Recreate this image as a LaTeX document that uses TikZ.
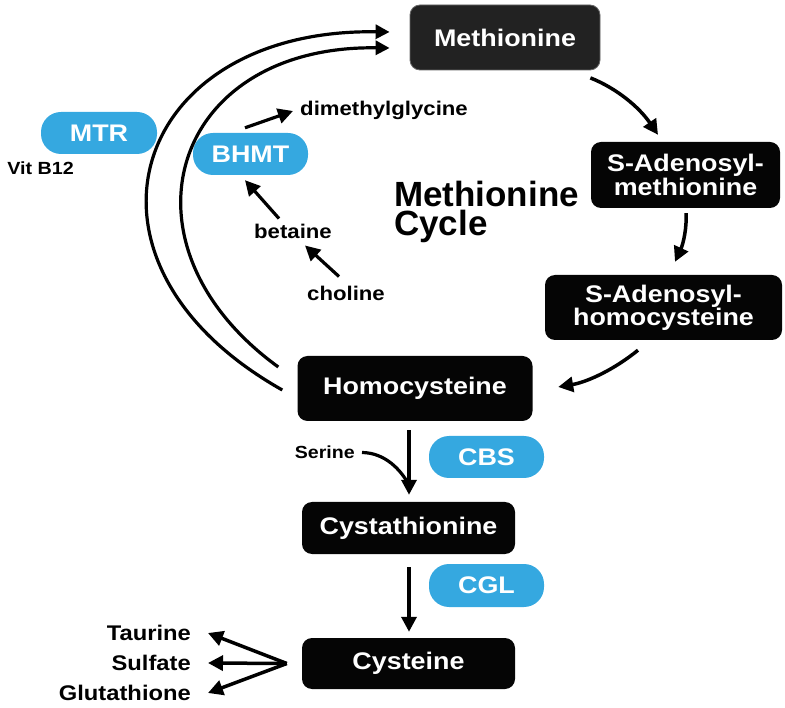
\documentclass[tikz,border=0pt]{standalone}
\usepackage{fontspec}
\setmainfont{Liberation Sans}[FakeStretch=1.12]
\newfontfamily\titlefont{Liberation Sans}
\usetikzlibrary{arrows.meta,calc}
\definecolor{enzblue}{HTML}{35A8E0}
\definecolor{boxblack}{HTML}{050505}
\definecolor{metblack}{HTML}{222222}
\begin{document}
\begin{tikzpicture}[x=1pt,y=-1pt,
  box/.style={fill=boxblack, rounded corners=10pt, text=white, align=center, inner sep=0pt,
    font=\bfseries\fontsize{24}{22}\selectfont},
  enz/.style={fill=enzblue, rounded corners=20pt, text=white, inner sep=0pt,
    font=\bfseries\fontsize{24}{24}\selectfont},
  lab/.style={inner sep=0pt, font=\bfseries\fontsize{19.8}{22}\selectfont},
  arr/.style={line width=3.5pt, -{Triangle[length=15pt,width=15pt]}},
  curvearr/.style={line width=3.2pt, -{Triangle[length=14pt,width=14pt]}}]
\useasboundingbox (0,0) rectangle (785,708);

% main boxes
\node[box, fill=metblack, draw=black!60, line width=0.8pt, minimum width=190, minimum height=65] (met) at (505,37.5) {Methionine};
\node[box, minimum width=189, minimum height=66] (sam) at (685.5,175) {S-Adenosyl-\\methionine};
\node[box, minimum width=237, minimum height=65] (sah) at (663.5,307.5) {S-Adenosyl-\\homocysteine};
\node[box, minimum width=235, minimum height=65] (hcy) at (415,388.5) {Homocysteine};
\node[box, minimum width=213, minimum height=52] (cth) at (408.5,528) {Cystathionine};
\node[box, minimum width=213, minimum height=51] (cys) at (408.5,663.5) {Cysteine};

% enzymes
\node[enz, minimum width=116, minimum height=42] (mtr) at (99,133) {MTR};
\node[enz, minimum width=115, minimum height=42] (bhmt) at (250.5,154) {BHMT};
\node[enz, minimum width=115, minimum height=42] (cbs) at (486.5,457) {CBS};
\node[enz, minimum width=115, minimum height=43] (cgl) at (486.5,585.5) {CGL};

% labels
\node[lab, font=\bfseries\fontsize{17.6}{20}\selectfont] (vit) at (40.5,168) {Vit B12};
\node[lab] (dmg) at (384,110) {dimethylglycine};
\node[lab] (bet) at (293,231) {betaine};
\node[lab] (cho) at (346,293) {choline};
\node[lab, font=\bfseries\fontsize{17.5}{20}\selectfont, anchor=east] (ser) at (355,452) {Serine};
\node[lab, font=\bfseries\fontsize{21.2}{22}\selectfont, anchor=east] (tau) at (191,633) {Taurine};
\node[lab, font=\bfseries\fontsize{21.2}{22}\selectfont, anchor=east] (sul) at (191,663) {Sulfate};
\node[lab, font=\bfseries\fontsize{21.2}{22}\selectfont, anchor=east] (glu) at (191,693) {Glutathione};
\node[inner sep=0pt, anchor=base west, align=left, font=\titlefont\bfseries\fontsize{35}{28.5}\selectfont] (title) at (394,235.5) {Methionine\\Cycle};

% cycle arrows
\draw[arr] ($(met.south east)+(-10,7.5)$) .. controls (616.7,88.3) and (639.3,107.3) .. ($(sam.north)+(-27.5,-7)$);
\draw[arr] ($(sam.south)+(0.5,5)$) .. controls (687,227.3) and (683.3,243.7) .. ($(sah.north)+(11.5,-13)$);
\draw[arr] ($(sah.south)+(-25.5,10)$) .. controls (614,369.7) and (587.3,382) .. ($(hcy.east)+(25.5,-1.5)$);

% remethylation curves
\coordinate (o1) at ($(hcy.west)+(-15,1.5)$);
\coordinate (o2) at ($(met.west)+(-20,-5.5)$);
\coordinate (i1) at ($(hcy.west)+(-19,-21.5)$);
\coordinate (i2) at ($(met.west)+(-20,10.5)$);
\draw[curvearr] (o1) .. controls (55,262) and (130,28) .. (o2);
\draw[curvearr] (i1) .. controls (110,245) and (170,45) .. (i2);

% BHMT side
\draw[arr, line width=3.2pt] ($(bhmt.north)+(-5.5,-5)$) -- ($(dmg.west)+(-7,1)$);
\draw[arr, line width=3.2pt] ($(bet.north)+(-14,-5)$) -- ($(bhmt.south)+(-5.5,5)$);
\draw[arr, line width=3.2pt] ($(cho.north)+(-7,-9)$) -- ($(bet.south)+(12,7)$);

% transsulfuration
\draw[arr] ($(hcy.south)+(-6,9)$) -- ($(cth.north)+(0.5,-7)$);
\draw[line width=3.2pt] ($(ser.east)+(7,0.5)$) .. controls (385.3,452.8) and (401,470) .. (409,485);
\draw[arr] ($(cth.south)+(0.5,13)$) -- ($(cys.north)+(0.5,-6)$);

\coordinate (fan) at ($(cys.west)+(-15,0)$);
\draw[arr] (fan) -- ($(tau.east)+(17,0)$);
\draw[arr] (fan) -- ($(sul.east)+(17,0)$);
\draw[arr] (fan) -- ($(glu.east)+(17,0)$);
\end{tikzpicture}
\end{document}
